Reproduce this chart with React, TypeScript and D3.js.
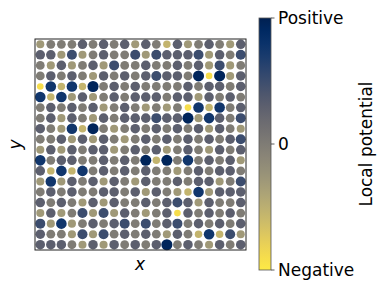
import * as d3 from "d3";

// local potential per cell, rows top -> bottom, columns left -> right (-1 negative, 1 positive)
const row01 = [-0.3, 0, 0, 0, 0.3, 0, 0.3, 0, 0.3, -0.3, 0.3, 0, -0.55, 0.3, -0.3, 0, 0.3, 0, -0.3, 0.3];
const row02 = [0.3, 0.3, -0.3, 0.5, -0.3, 0, 0.3, 0, 0, 0.5, -0.3, 0.5, 0.3, 0.3, 0.3, 0.5, -0.3, 0.3, 0, 0.5];
const row03 = [0, -0.3, 0.3, -0.3, 0, 0.3, -0.3, 0.5, 0, 0, 0.3, 0, 0, 0.3, 0, 0.3, -0.3, 0.5, -0.3, 0];
const row04 = [0, 0.3, 0, 0.3, 0, -0.3, 0.3, 0, 0.3, 0, 0.3, 0.5, 0.3, 0.3, 0, 0.95, -0.9, 0.95, -0.3, 0.3];
const row05 = [-0.9, 0.75, -0.55, 0.75, -0.55, 0.95, 0, 0.3, 0, 0.3, 0, 0, 0, 0, 0.3, 0, 0.3, 0.3, 0, 0.3];
const row06 = [0.75, -0.55, 0.75, -0.3, 0.3, -0.3, 0, 0.3, 0, 0.3, 0.3, 0.3, 0, 0.3, 0.3, -0.3, 0.3, 0, 0.3, 0];
const row07 = [0, 0.3, 0, 0.3, 0, 0.3, -0.3, 0, 0.3, 0, -0.3, 0, -0.3, 0, -0.9, 0.75, -0.55, 0.75, 0, 0.3];
const row08 = [0, 0.3, -0.3, 0.3, 0, -0.3, 0.3, 0, 0.3, 0.3, 0.3, 0.5, 0.3, 0.3, 0.95, -0.3, 0.75, 0.3, 0, 0.5];
const row09 = [0.3, 0, -0.3, 0.75, -0.55, 0.95, 0, -0.3, 0, 0.3, 0, 0.3, 0, 0.3, 0, 0.3, -0.3, 0.3, 0, -0.3];
const row10 = [0, 0, 0.3, -0.3, 0.3, -0.3, 0.3, 0, -0.3, 0, 0.3, 0, 0.3, 0, 0.3, 0, 0.3, 0, 0.3, 0.5];
const row11 = [-0.3, 0.3, -0.3, 0.3, 0, 0.3, 0.3, -0.3, 0, 0.3, 0, 0.3, -0.3, 0, 0.3, 0, -0.3, 0.3, 0, 0.3];
const row12 = [0.75, 0, 0.3, 0.3, 0, 0, 0.3, 0, 0.3, 0, 0.95, -0.55, 0.95, 0, 0.75, 0, 0.3, 0, 0.3, -0.3];
const row13 = [0.3, -0.55, 0.75, -0.55, 0.75, 0, 0.3, 0, 0.3, 0, 0.3, 0, 0, -0.3, 0, 0.3, 0, 0.3, 0.3, 0];
const row14 = [-0.3, 0.75, -0.3, 0.3, 0, 0.3, -0.3, 0.3, 0, -0.3, 0.3, 0, 0, 0.3, 0, 0.3, 0.3, -0.3, 0, 0.5];
const row15 = [0, 0.3, 0, 0.3, 0, 0, 0.3, 0.3, 0, 0.3, -0.3, 0.3, 0, -0.3, -0.55, 0.75, -0.3, 0.3, 0.3, 0.3];
const row16 = [0.3, 0, 0.3, 0, -0.3, 0.3, -0.3, 0.3, 0, 0, 0.3, 0, 0.3, 0.5, 0.3, -0.3, 0.3, 0, 0, 0.3];
const row17 = [-0.3, 0.3, -0.3, 0, 0.5, -0.3, 0.5, -0.3, 0.3, 0, -0.3, 0, 0.3, -0.9, 0.3, 0, 0.3, 0, 0.3, 0];
const row18 = [0.5, -0.3, 0.75, -0.3, 0, 0.3, 0, 0.3, 0.5, 0, 0.5, 0, 0.3, 0.5, 0, 0.3, 0, 0.3, 0, 0.3];
const row19 = [0.3, 0, 0, -0.3, 0.5, -0.3, 0.5, 0, 0.3, 0, 0.3, 0, -0.3, 0.3, 0, -0.55, 0.75, -0.55, 0.5, -0.3];
const row20 = [0.3, 0.3, 0.3, 0, -0.3, 0.3, -0.3, 0.3, 0, 0.3, 0, 0.3, 0.95, 0, 0.3, 0, -0.3, 0.3, 0, 0.3];

const grid = [row01, row02, row03, row04, row05, row06, row07, row08, row09, row10,
  row11, row12, row13, row14, row15, row16, row17, row18, row19, row20];

const barTicks = [1, 0, -1];
const barTickLabels = ["Positive", "0", "Negative"];

const W = 382;
const H = 306;
const plot = { left: 35, top: 39, size: 211 };
const bar = { left: 259, top: 18, width: 12, height: 252 };
const font = "DejaVu Sans, sans-serif";

export default function App() {
  const n = grid.length;
  const x = d3.scaleBand<number>().domain(d3.range(n)).range([plot.left, plot.left + plot.size]);
  const y = d3.scaleBand<number>().domain(d3.range(n)).range([plot.top, plot.top + plot.size]);
  // positive -> dark blue, negative -> yellow
  const color = d3.scaleSequential(d3.interpolateCividis).domain([1, -1]);
  const radius = d3.scaleLinear().domain([-1, 1]).range([3.2, 5.6]);
  const barY = d3.scaleLinear().domain([1, -1]).range([bar.top, bar.top + bar.height]);

  const stops = d3.range(0, 1.0001, 0.05);

  return (
    <svg width={W} height={H} style={{ position: "absolute", left: 0, top: 0, background: "#fff" }}>
      <defs>
        <linearGradient id="cbar" x1="0" y1="0" x2="0" y2="1">
          {stops.map((t) => (
            <stop key={t} offset={t} stopColor={d3.interpolateCividis(t)} />
          ))}
        </linearGradient>
      </defs>

      {grid.map((row, r) =>
        row.map((v, c) => (
          <circle
            key={`${r}-${c}`}
            cx={x(c)! + x.bandwidth() / 2}
            cy={y(r)! + y.bandwidth() / 2}
            r={radius(v)}
            fill={color(v)}
          />
        ))
      )}

      <rect x={plot.left} y={plot.top} width={plot.size} height={plot.size} fill="none" stroke="#222" strokeWidth={1} />

      <text x={140} y={270} fontFamily={font} fontStyle="italic" fontSize={17} textAnchor="middle">x</text>
      <text
        transform={`translate(21,${plot.top + plot.size / 2}) rotate(-90)`}
        fontFamily={font}
        fontStyle="italic"
        fontSize={17}
        textAnchor="middle"
      >
        y
      </text>

      <rect x={bar.left} y={bar.top} width={bar.width} height={bar.height} fill="url(#cbar)" stroke="#555" strokeWidth={0.8} />
      {barTicks.map((t, i) => (
        <g key={t} transform={`translate(${bar.left + bar.width},${barY(t)})`}>
          <line x1={0} x2={3.5} stroke="#333" strokeWidth={0.8} />
          <text x={7} dy="0.36em" fontFamily={font} fontSize={17} fill="#000">
            {barTickLabels[i]}
          </text>
        </g>
      ))}
      <text
        transform={`translate(372,${bar.top + bar.height / 2}) rotate(-90)`}
        fontFamily={font}
        fontSize={17}
        textAnchor="middle"
      >
        Local potential
      </text>
    </svg>
  );
}
